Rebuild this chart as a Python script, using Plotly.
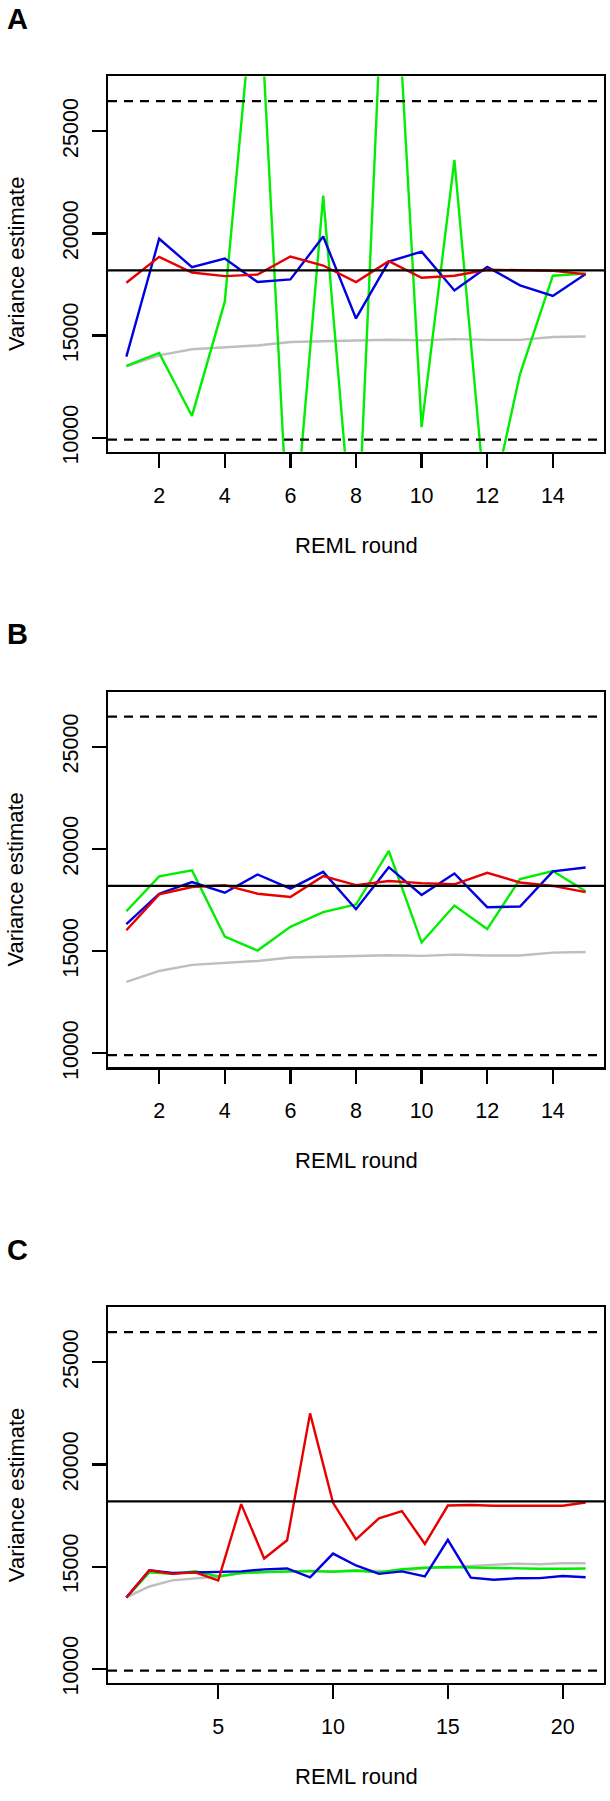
import plotly.graph_objects as go

W, H = 610, 1801

# ---------------- data ----------------
rounds_ab = list(range(1, 16))
rounds_c = list(range(1, 22))

gray_ab = [13500, 14030, 14330, 14410, 14520, 14690, 14730, 14780, 14800, 14770,
           14830, 14790, 14790, 14930, 14960]
gray_c = gray_ab + [15040, 15090, 15150, 15120, 15170, 15170]

green_a = [13520, 14150, 11070, 16660, 34000, 3000, 21850, 2850, 39500, 10520,
           23600, 5800, 13120, 17930, 18040]
blue_a = [13970, 19740, 18350, 18770, 17620, 17750, 19850, 15840, 18620, 19110,
          17210, 18360, 17460, 16940, 18010]
red_a = [17590, 18850, 18090, 17910, 17990, 18870, 18430, 17620, 18640, 17830,
         17930, 18220, 18200, 18170, 18010]

green_b = [16950, 18660, 18950, 15710, 15030, 16190, 16910, 17280, 19900, 15420,
           17230, 16080, 18530, 18920, 17930]
blue_b = [16320, 17810, 18380, 17860, 18750, 18060, 18880, 17050, 19110, 17750,
          18800, 17150, 17180, 18900, 19090]
red_b = [16020, 17780, 18140, 18230, 17810, 17650, 18670, 18230, 18430, 18330,
         18270, 18830, 18360, 18190, 17890]

green_c = [13490, 14720, 14650, 14780, 14520, 14690, 14740, 14770, 14780, 14750,
           14800, 14720, 14880, 14950, 14980, 14960, 14930, 14930, 14900, 14900, 14910]
blue_c = [13490, 14820, 14690, 14720, 14720, 14770, 14870, 14910, 14480, 15640,
          15060, 14650, 14770, 14520, 16310, 14460, 14360, 14430, 14440, 14540, 14480]
red_c = [13490, 14820, 14650, 14720, 14330, 18060, 15400, 16290, 22500, 18120,
         16340, 17360, 17720, 16110, 17990, 18020, 17980, 17990, 17990, 17980, 18140]

true_value = 18190
lower_bound = 9910
upper_bound = 26470

y_ticks = [10000, 15000, 20000, 25000]
x_ticks_ab = [2, 4, 6, 8, 10, 12, 14]
x_ticks_c = [5, 10, 15, 20]
panel_labels = ["A", "B", "C"]
x_title = "REML round"
y_title = "Variance estimate"

# ---------------- layout helpers ----------------
FONT = "Liberation Sans, Arial, Helvetica, sans-serif"
COL_GRAY = "#BEBEBE"
COL_GREEN = "#00EE00"
COL_BLUE = "#0000E0"
COL_RED = "#E80000"


def px_x(x):
    return x / W


def px_y(y):
    return 1 - y / H


panel_offsets = [0, 620, 1240]
plot_left, plot_right = 108, 604
plot_top, plot_bottom = 77, 455

panels = [
    (rounds_ab, gray_ab, green_a, blue_a, red_a, [0.44, 15.56], x_ticks_ab),
    (rounds_ab, gray_ab, green_b, blue_b, red_b, [0.44, 15.56], x_ticks_ab),
    (rounds_c, gray_c, green_c, blue_c, red_c, [0.2, 21.8], x_ticks_c),
]

fig = go.Figure()
annotations = []

for i, (xs, g0, g, b, r, xr, xt) in enumerate(panels):
    off = panel_offsets[i]
    sfx = "" if i == 0 else str(i + 1)
    xa, ya = "x" + sfx, "y" + sfx
    for ys, col in [(g0, COL_GRAY), (g, COL_GREEN), (b, COL_BLUE), (r, COL_RED)]:
        fig.add_trace(go.Scatter(x=xs, y=ys, mode="lines",
                                 line=dict(color=col, width=2.4),
                                 xaxis=xa, yaxis=ya, showlegend=False,
                                 hoverinfo="skip"))
    for val, dash in [(true_value, "solid"), (lower_bound, "9px,7px"),
                      (upper_bound, "9px,7px")]:
        fig.add_trace(go.Scatter(x=[xr[0], xr[1]], y=[val, val], mode="lines",
                                 line=dict(color="black", width=2.3, dash=dash),
                                 xaxis=xa, yaxis=ya, showlegend=False,
                                 hoverinfo="skip"))

    axis_common = dict(showline=True, linecolor="black", linewidth=2.3, mirror=True,
                       ticks="outside", ticklen=14, tickwidth=2.3, tickcolor="black",
                       showgrid=False, zeroline=False,
                       tickfont=dict(family=FONT, size=21.5, color="black"))
    fig.update_layout(**{
        "xaxis" + sfx: dict(axis_common, range=xr, tickvals=xt,
                            ticktext=[str(v) for v in xt],
                            domain=[px_x(plot_left), px_x(plot_right)],
                            anchor=ya, ticklabelstandoff=9),
        "yaxis" + sfx: dict(axis_common, range=[9320, 27680], tickvals=y_ticks,
                            ticktext=[str(v) for v in y_ticks], tickangle=-90,
                            domain=[px_y(plot_bottom + off), px_y(plot_top + off)],
                            anchor=xa, ticklabelstandoff=5),
    })

    annotations.append(dict(text="<b>%s</b>" % panel_labels[i], x=px_x(5),
                            y=px_y(19 + off), xref="paper", yref="paper",
                            xanchor="left", yanchor="middle", showarrow=False,
                            font=dict(family=FONT, size=29, color="black")))
    annotations.append(dict(text=x_title, x=px_x(356), y=px_y(549 + off),
                            xref="paper", yref="paper", xanchor="center",
                            yanchor="middle", showarrow=False,
                            font=dict(family=FONT, size=22, color="black")))
    annotations.append(dict(text=y_title, x=px_x(16), y=px_y(266 + off),
                            xref="paper", yref="paper", xanchor="center",
                            yanchor="middle", showarrow=False, textangle=-90,
                            font=dict(family=FONT, size=22, color="black")))

fig.update_layout(width=W, height=H, autosize=False,
                  margin=dict(l=0, r=0, t=0, b=0),
                  paper_bgcolor="white", plot_bgcolor="white",
                  annotations=annotations, showlegend=False)

fig.write_html("out.html",
               config={"displayModeBar": False, "staticPlot": True},
               post_script="document.body.style.margin='0';"
                           "document.body.style.padding='0';")
